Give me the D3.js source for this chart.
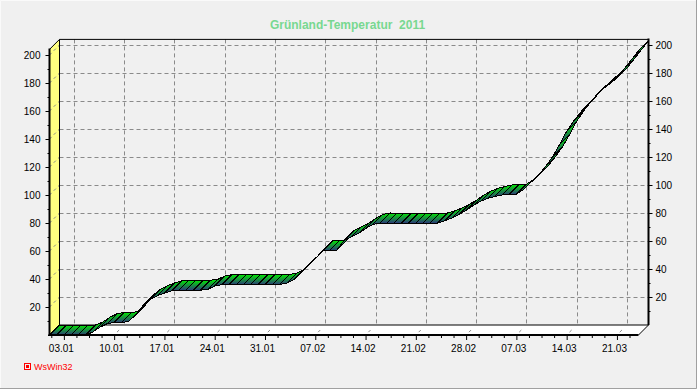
<!DOCTYPE html>
<html>
<head>
<meta charset="utf-8">
<script src="https://cdn.jsdelivr.net/npm/d3@7"></script>
<style>
  html, body { margin: 0; padding: 0; background: #f0f0f0; }
  svg { display: block; font-family: "Liberation Sans", Arial, sans-serif; }
</style>
</head>
<body>
<script>
// days since 01.01 for the labelled ticks
const tickDays = [2, 9, 16, 23, 30, 37, 44, 51, 58, 65, 72, 79];
const tickLabels = ['03.01', '10.01', '17.01', '24.01', '31.01', '07.02', '14.02', '21.02', '28.02', '07.03', '14.03', '21.03'];
const yTicks = [20, 40, 60, 80, 100, 120, 140, 160, 180, 200];
const yMinor = [10, 30, 50, 70, 90, 110, 130, 150, 170, 190];
const xMinor = [0.25, 3.75, 5.5, 7.25, 10.75, 12.5, 14.25, 17.75, 19.5, 21.25, 24.75, 26.5, 28.25, 31.75, 33.5, 35.25, 38.75, 40.5, 42.25, 45.75, 47.5, 49.25, 52.75, 54.5, 56.25, 59.75, 61.5, 63.25, 66.75, 68.5, 70.25, 73.75, 75.5, 77.25, 80.75];

// daily temperature sum, one value per day from 01.01 to 24.03
const tempSum = [
  0, 0, 0, 0, 0, 0, 2, 5.5, 8, 9,
  9, 9.5, 14.5, 21, 25.5, 28, 30, 31.5, 32, 32,
  32, 32, 32.5, 35, 36, 36, 36, 36, 36, 36,
  36, 36, 36, 37, 39.5, 44.5, 49.5, 54.5, 60, 60.5,
  60.5, 67.5, 70, 72.5, 76, 79, 80, 80, 80, 80,
  80, 80, 80, 80, 80, 81.5, 83.5, 86, 89, 92.5,
  95.5, 97.5, 99, 100, 100.5, 100.5, 104, 109, 113.5, 120,
  127, 136, 145.5, 153, 159.5, 165, 170.5, 175.5, 179.5, 183.5,
  190, 196.5, 203
];

const width = 697, height = 389, depth = 10;

const svg = d3.select('body').append('svg').attr('width', width).attr('height', height);

const x = d3.scaleLinear().domain([0, 82]).range([49.5, 638.5]);
const y = d3.scaleLinear().domain([0, 200]).range([335, 55]);
const wallTop = y(204) - depth;

// window edge
svg.append('path').attr('d', `M0.5,${height}V0.5H${width}`).attr('fill', 'none').attr('stroke', '#fafafa');
svg.append('path').attr('d', `M0,${height - 0.5}H${width - 0.5}V0`).attr('fill', 'none').attr('stroke', '#a0a0a0');

// title
svg.append('text').attr('x', 347.5).attr('y', 29).attr('text-anchor', 'middle')
  .attr('font-size', 12).attr('font-weight', 'bold').attr('fill', '#78d890')
  .style('white-space', 'pre')
  .text('Grünland-Temperatur  2011');

// left wall and floor
svg.append('path')
  .attr('d', `M${x(0)},${y(0)}L${x(0)},${wallTop + depth}L${x(0) + depth},${wallTop}L${x(0) + depth},${y(0) - depth}Z`)
  .attr('fill', '#ffff80');
svg.append('path')
  .attr('d', `M${x(0)},${y(0)}L${x(82)},${y(0)}L${x(82) + depth},${y(0) - depth}L${x(0) + depth},${y(0) - depth}Z`)
  .attr('fill', '#fff');

// grid on the back wall
const grid = svg.append('g').attr('stroke', '#8a8a8a').attr('stroke-dasharray', '4,3').attr('fill', 'none');
grid.selectAll('.gx').data(tickDays).join('line').attr('class', 'gx')
  .attr('x1', d => Math.round(x(d) + depth) + 0.5).attr('x2', d => Math.round(x(d) + depth) + 0.5)
  .attr('y1', wallTop).attr('y2', y(0) - depth);
grid.selectAll('.gy').data(yTicks).join('line').attr('class', 'gy')
  .attr('y1', d => Math.round(y(d) - depth) + 0.5).attr('y2', d => Math.round(y(d) - depth) + 0.5)
  .attr('x1', x(0) + depth).attr('x2', x(82) + depth);
// short marks across the left wall and the floor
grid.selectAll('.dy').data(yTicks).join('line').attr('class', 'dy')
  .attr('stroke-dasharray', '3,3')
  .attr('x1', x(0)).attr('y1', d => y(d)).attr('x2', x(0) + depth).attr('y2', d => y(d) - depth);
grid.selectAll('.dx').data(tickDays).join('line').attr('class', 'dx')
  .attr('stroke-dasharray', '0,4,3,7')
  .attr('x1', d => x(d)).attr('y1', y(0)).attr('x2', d => x(d) + depth).attr('y2', y(0) - depth);

// frame
const frame = svg.append('g').attr('stroke', '#000').attr('fill', 'none');
frame.append('path')
  .attr('d', `M${x(0)},${wallTop + depth}L${x(0) + depth},${wallTop}H${x(82) + depth}`);
frame.append('path')
  .attr('d', `M${x(0) + depth},${wallTop}V${y(0) - depth}H${x(82) + depth}L${x(82)},${y(0)}`);

// ribbon, one quad per day
const defs = svg.append('defs');
const grad = defs.append('linearGradient').attr('id', 'band').attr('x1', 0).attr('y1', 0).attr('x2', 0).attr('y2', 1);
grad.append('stop').attr('offset', '0%').attr('stop-color', '#00e800');
grad.append('stop').attr('offset', '100%').attr('stop-color', '#2c3a78');

const quad = (v, i) => {
  const a = [x(i), y(v)];
  const b = [x(i + 1), y(tempSum[i + 1])];
  return d3.line()([a, b, [b[0] + depth, b[1] - depth], [a[0] + depth, a[1] - depth]]) + 'Z';
};
svg.append('g').selectAll('path')
  .data(tempSum.slice(0, -1))
  .join('path')
  .attr('d', quad)
  .attr('fill', 'url(#band)')
  .attr('stroke', '#000')
  .attr('shape-rendering', 'crispEdges');

// axes
const styleAxis = g => {
  g.select('.domain').remove();
  g.selectAll('line').attr('stroke', '#000');
  g.selectAll('text').attr('fill', '#000').attr('font-size', 10).attr('font-family', '"Liberation Sans", Arial, sans-serif');
};
const yBack = y.copy().range([y(0) - depth, y(200) - depth]);

svg.append('g').attr('transform', `translate(${x(0)},0)`)
  .call(d3.axisLeft(y).tickValues(yTicks).tickSize(4).tickPadding(5).tickFormat(d3.format('d')))
  .call(styleAxis);
svg.append('g').attr('transform', `translate(${x(0)},0)`)
  .call(d3.axisLeft(y).tickValues(yMinor).tickSize(2).tickFormat(''))
  .call(styleAxis);
svg.append('line').attr('x1', x(0)).attr('x2', x(0)).attr('y1', wallTop + depth - 1).attr('y2', y(0) + 1)
  .attr('stroke', '#000').attr('stroke-width', 2);

svg.append('g').attr('transform', `translate(${x(82) + depth},0)`)
  .call(d3.axisRight(yBack).tickValues(yTicks).tickSize(4).tickPadding(3).tickFormat(d3.format('d')))
  .call(styleAxis);
svg.append('g').attr('transform', `translate(${x(82) + depth},0)`)
  .call(d3.axisRight(yBack).tickValues(yMinor).tickSize(2).tickFormat(''))
  .call(styleAxis);
svg.append('line').attr('x1', x(82) + depth).attr('x2', x(82) + depth).attr('y1', wallTop - 1).attr('y2', y(0) - depth)
  .attr('stroke', '#000').attr('stroke-width', 2);

svg.append('g').attr('transform', `translate(0,${y(0)})`)
  .call(d3.axisBottom(x).tickValues(tickDays).tickSize(5).tickPadding(5).tickFormat((d, i) => tickLabels[i]))
  .call(styleAxis)
  .selectAll('text').attr('dx', -3);
svg.append('g').attr('transform', `translate(0,${y(0)})`)
  .call(d3.axisBottom(x).tickValues(xMinor).tickSize(3).tickFormat(''))
  .call(styleAxis);
svg.append('line').attr('x1', x(0) - 1).attr('x2', x(82)).attr('y1', y(0)).attr('y2', y(0))
  .attr('stroke', '#000').attr('stroke-width', 2);

// WsWin32 mark
const mark = svg.append('g').attr('fill', 'none').attr('stroke', '#f00');
mark.append('rect').attr('x', 24.5).attr('y', 363.5).attr('width', 6).attr('height', 6);
mark.append('rect').attr('x', 26).attr('y', 365).attr('width', 3).attr('height', 3).attr('fill', '#f00').attr('stroke', 'none');
svg.append('text').attr('x', 34).attr('y', 369.5).attr('font-size', 9).attr('fill', '#f00').text('WsWin32');
</script>
</body>
</html>
